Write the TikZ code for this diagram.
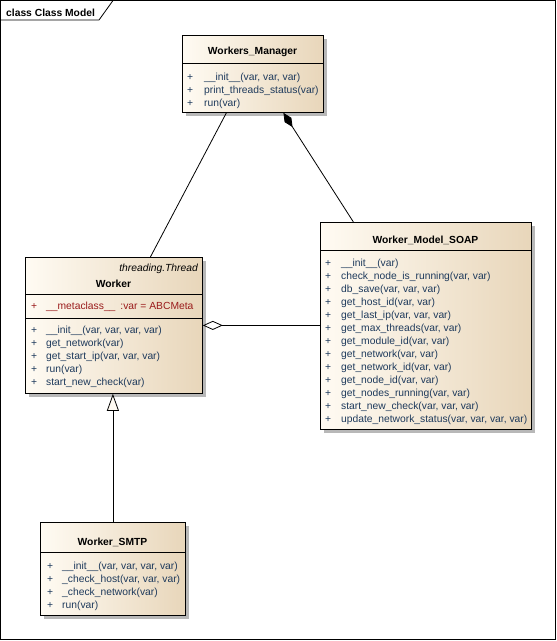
\documentclass[tikz,border=0pt]{standalone}
\usepackage{fontspec}
\setmainfont{Liberation Sans}
\usetikzlibrary{positioning,arrows.meta,shadows}
\definecolor{classleft}{HTML}{FFFBF3}
\definecolor{classright}{HTML}{E8D6BA}
\definecolor{opblue}{HTML}{1E3A5C}
\definecolor{attrred}{HTML}{9A1B1B}
\definecolor{shadowgray}{HTML}{B8B8B8}

\tikzset{
  umlclass/.style={draw=black, line width=0.8pt, anchor=north west, inner sep=0pt,
    left color=classleft, right color=classright,
    drop shadow={shadow xshift=4pt, shadow yshift=-4pt, fill=shadowgray, opacity=1}},
  umltitle/.style={font=\fontsize{10.3}{12}\selectfont\bfseries, inner sep=0pt, yshift=-2pt},
  umlstereo/.style={font=\fontsize{10.3}{12}\selectfont\itshape, inner sep=0pt, anchor=east, yshift=-2pt},
  umlop/.style={font=\fontsize{10.3}{12}\selectfont, text=opblue, anchor=west, inner sep=0pt,
    text height=7.5pt, text depth=2.5pt, yshift=-2pt},
  umlattr/.style={umlop, text=attrred},
  umlline/.style={line width=0.8pt},
}

\begin{document}
\begin{tikzpicture}[x=1pt,y=-1pt]
\useasboundingbox (0,0) rectangle (557,641);
% frame
\draw[umlline] (0.5,0.5) rectangle (555.5,639.5);
\node[umltitle, anchor=west] (frametitle) at (6,11) {class Class Model};
\draw[umlline] (0.5,20) -- (99,20) -- (113,0.5);

% Workers_Manager
\node[umlclass, minimum width=141pt, minimum height=77pt] (wm) at (182,35) {};
\node[umltitle] (wm-title) at (252.5,50) {Workers\_Manager};
\draw[umlline] (wm.west |- 0,63) -- (wm.east |- 0,63);
\foreach \op [count=\i] in {{\_\_init\_\_(var, var, var)}, {print\_threads\_status(var)}, {run(var)}}
  \node[umlop] (wm-op\i) at (187,63+13*\i) {\makebox[17pt][l]{+}\op};

% Worker
\node[umlclass, minimum width=177pt, minimum height=136pt] (wk) at (25,257) {};
\node[umlstereo] (wk-stereo) at (198,267) {threading.Thread};
\node[umltitle] (wk-title) at (113.5,282) {Worker};
\draw[umlline] (wk.west |- 0,294) -- (wk.east |- 0,294);
\node[umlattr] (wk-attr) at (31,305) {\makebox[15pt][l]{+}\_\_metaclass\_\_\hspace{5pt}:var = ABCMeta};
\draw[umlline] (wk.west |- 0,318) -- (wk.east |- 0,318);
\foreach \op [count=\i] in {{\_\_init\_\_(var, var, var, var)}, {get\_network(var)}, {get\_start\_ip(var, var, var)}, {run(var)}, {start\_new\_check(var)}}
  \node[umlop] (wk-op\i) at (31,316+13*\i) {\makebox[15pt][l]{+}\op};

% Worker_Model_SOAP
\node[umlclass, minimum width=211pt, minimum height=207pt] (soap) at (320,222) {};
\node[umltitle] (soap-title) at (425.5,238) {Worker\_Model\_SOAP};
\draw[umlline] (soap.west |- 0,250) -- (soap.east |- 0,250);
\foreach \op [count=\i] in {{\_\_init\_\_(var)}, {check\_node\_is\_running(var, var)}, {db\_save(var, var, var)},
    {get\_host\_id(var, var)}, {get\_last\_ip(var, var, var)}, {get\_max\_threads(var, var)},
    {get\_module\_id(var, var)}, {get\_network(var, var)}, {get\_network\_id(var, var)},
    {get\_node\_id(var, var)}, {get\_nodes\_running(var, var)}, {start\_new\_check(var, var, var)},
    {update\_network\_status(var, var, var, var)}}
  \node[umlop] (soap-op\i) at (325,249+13*\i) {\makebox[16pt][l]{+}\op};

% Worker_SMTP
\node[umlclass, minimum width=145pt, minimum height=93pt] (smtp) at (40,522) {};
\node[umltitle] (smtp-title) at (112.5,540) {Worker\_SMTP};
\draw[umlline] (smtp.west |- 0,552) -- (smtp.east |- 0,552);
\foreach \op [count=\i] in {{\_\_init\_\_(var, var, var, var)}, {\_check\_host(var, var, var)}, {\_check\_network(var)}, {run(var)}}
  \node[umlop] (smtp-op\i) at (47,552+13*\i) {\makebox[15pt][l]{+}\op};

% relations
\draw[umlline] ([xshift=-26.5pt]wm.south) -- ([xshift=36.5pt]wk.north);
\draw[umlline, {Diamond[length=17pt,width=8pt,fill=black]}-] ([xshift=30.5pt]wm.south) -- ([xshift=-72.5pt]soap.north);
\draw[umlline, {Diamond[length=20pt,width=9pt,fill=white]}-] (wk.east) -- (soap.west |- wk.east);
\draw[umlline, -{Triangle[length=17pt,width=12pt,fill=classleft]}] (smtp.north) -- (smtp.north |- wk.south);
\end{tikzpicture}
\end{document}
